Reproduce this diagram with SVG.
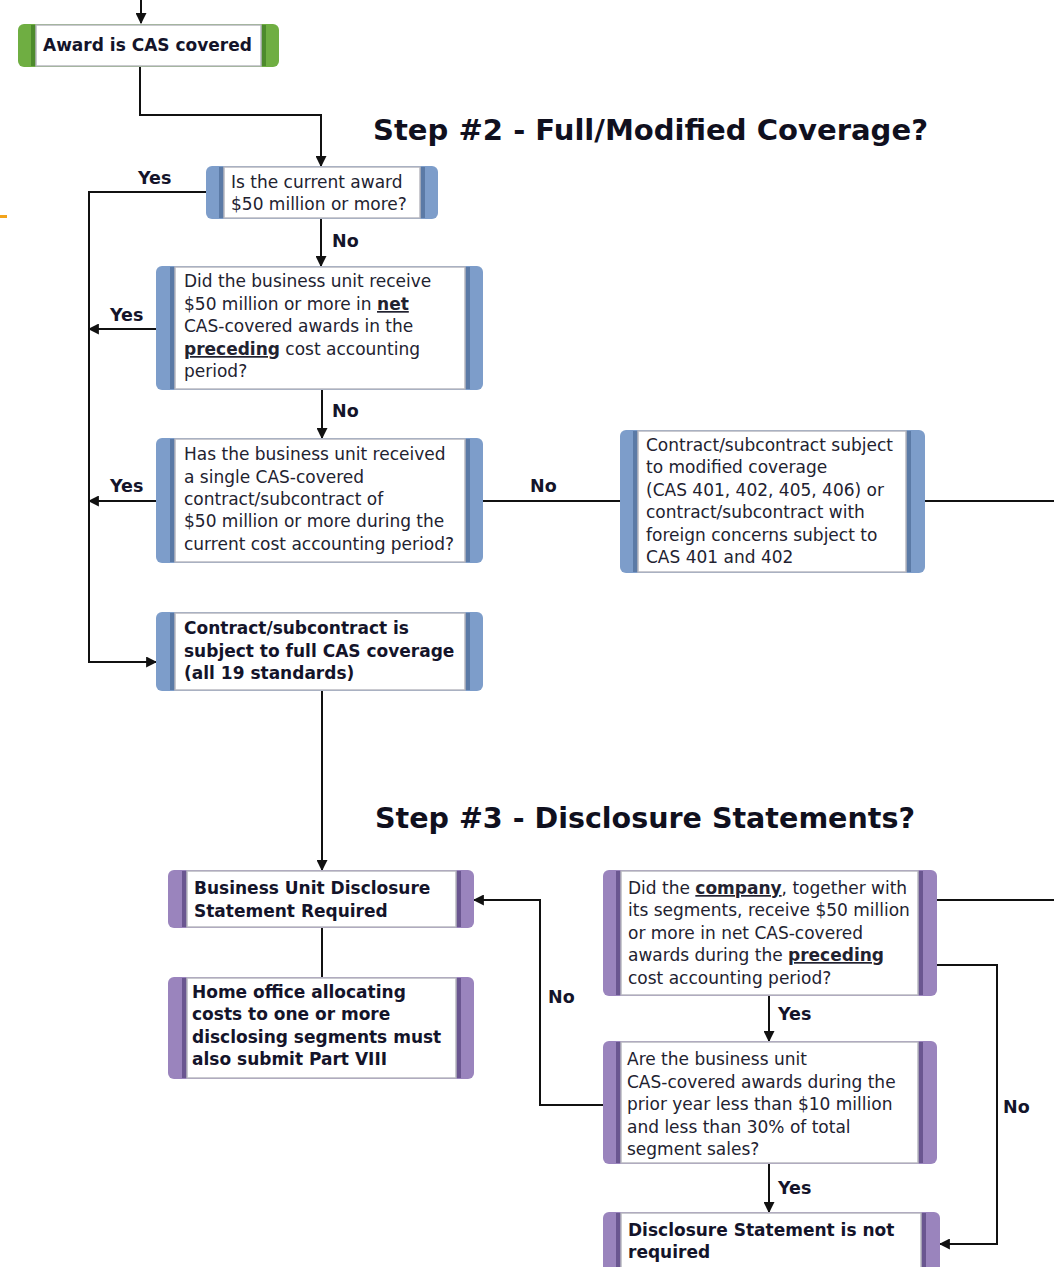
<svg xmlns="http://www.w3.org/2000/svg" width="1054" height="1267" viewBox="0 0 1054 1267">
<defs>
<style>
.t{font-family:"DejaVu Sans","Liberation Sans",sans-serif;font-size:17px;fill:#222230}
.b{font-family:"DejaVu Sans","Liberation Sans",sans-serif;font-size:17px;font-weight:bold;fill:#14142a}
.u{font-weight:bold;text-decoration:underline}
.lbl{font-family:"DejaVu Sans","Liberation Sans",sans-serif;font-size:17.5px;font-weight:bold;fill:#14142a}
.title{font-family:"DejaVu Sans","Liberation Sans",sans-serif;font-size:29px;font-weight:bold;fill:#10101e}
.in{fill:#fff;stroke:#b8b8c0;stroke-width:1.5}
.blue{fill:#7d9dca}
.purple{fill:#9a84bd}
.green{fill:#6fae42}
.shB{fill:#5b7aa6}
.shP{fill:#6a5690}
.shG{fill:#4d8a2c}
.ln{fill:none;stroke:#111;stroke-width:2}
</style>
<marker id="arw" viewBox="0 0 10 10" refX="9" refY="5" markerWidth="11" markerHeight="11" markerUnits="userSpaceOnUse" orient="auto">
<path d="M0,0 L10,5 L0,10 z" fill="#111"/>
</marker>
</defs>
<rect x="0" y="0" width="1054" height="1267" fill="#fff"/>
<rect x="0" y="215" width="7" height="3" fill="#f2a31b"/>

<text class="title" x="373" y="140" textLength="555" lengthAdjust="spacingAndGlyphs">Step #2 - Full/Modified Coverage?</text>
<text class="title" x="375" y="828" textLength="540" lengthAdjust="spacingAndGlyphs">Step #3 - Disclosure Statements?</text>

<g id="connectors">
<path class="ln" d="M141,0 V23" marker-end="url(#arw)"/>
<path class="ln" d="M140,67 V115 H321 V166" marker-end="url(#arw)"/>
<path class="ln" d="M206,192 H89 V662 H156" marker-end="url(#arw)"/>
<path class="ln" d="M321,219 V266" marker-end="url(#arw)"/>
<path class="ln" d="M156,329 H89" marker-end="url(#arw)"/>
<path class="ln" d="M322,390 V438" marker-end="url(#arw)"/>
<path class="ln" d="M156,501 H89" marker-end="url(#arw)"/>
<path class="ln" d="M483,501 H620"/>
<path class="ln" d="M925,501 H1054"/>
<path class="ln" d="M322,691 V870" marker-end="url(#arw)"/>
<path class="ln" d="M322,928 V977"/>
<path class="ln" d="M937,900 H1054"/>
<path class="ln" d="M937,965 H997 V1244 H940" marker-end="url(#arw)"/>
<path class="ln" d="M769,996 V1041" marker-end="url(#arw)"/>
<path class="ln" d="M603,1105 H540 V900 H474" marker-end="url(#arw)"/>
<path class="ln" d="M769,1164 V1212" marker-end="url(#arw)"/>
<text class="lbl" x="138" y="184">Yes</text>
<text class="lbl" x="332" y="247">No</text>
<text class="lbl" x="110" y="321">Yes</text>
<text class="lbl" x="332" y="417">No</text>
<text class="lbl" x="110" y="492">Yes</text>
<text class="lbl" x="530" y="492">No</text>
<text class="lbl" x="548" y="1003">No</text>
<text class="lbl" x="778" y="1020">Yes</text>
<text class="lbl" x="1003" y="1113">No</text>
<text class="lbl" x="778" y="1194">Yes</text>
</g>

<g id="n1">
<rect class="green" x="18" y="24" width="261" height="43" rx="6"/>
<rect class="shG" x="31" y="25" width="5" height="41"/>
<rect class="shG" x="261" y="25" width="5" height="41"/>
<rect class="in" x="36" y="25" width="225" height="41"/>
<text class="b" x="43" y="51">Award is CAS covered</text>
</g>

<g id="n2">
<rect class="blue" x="206" y="166" width="232" height="53" rx="6"/>
<rect class="shB" x="219" y="167" width="5" height="51"/>
<rect class="shB" x="420" y="167" width="5" height="51"/>
<rect class="in" x="224" y="167" width="196" height="51"/>
<text class="t" x="231" y="188">Is the current award</text>
<text class="t" x="231" y="210">$50 million or more?</text>
</g>

<g id="n3">
<rect class="blue" x="156" y="266" width="327" height="124" rx="6"/>
<rect class="shB" x="170" y="267" width="5" height="122"/>
<rect class="shB" x="465" y="267" width="5" height="122"/>
<rect class="in" x="175" y="267" width="290" height="122"/>
<text class="t" x="184" y="287">Did the business unit receive</text>
<text class="t" x="184" y="310">$50 million or more in <tspan class="u">net</tspan></text>
<text class="t" x="184" y="332">CAS-covered awards in the</text>
<text class="t" x="184" y="355"><tspan class="u">preceding</tspan> cost accounting</text>
<text class="t" x="184" y="377">period?</text>
</g>

<g id="n4">
<rect class="blue" x="156" y="438" width="327" height="125" rx="6"/>
<rect class="shB" x="170" y="439" width="5" height="123"/>
<rect class="shB" x="465" y="439" width="5" height="123"/>
<rect class="in" x="175" y="439" width="290" height="123"/>
<text class="t" x="184" y="460">Has the business unit received</text>
<text class="t" x="184" y="483">a single CAS-covered</text>
<text class="t" x="184" y="505">contract/subcontract of</text>
<text class="t" x="184" y="527">$50 million or more during the</text>
<text class="t" x="184" y="550">current cost accounting period?</text>
</g>

<g id="n5">
<rect class="blue" x="620" y="430" width="305" height="143" rx="6"/>
<rect class="shB" x="633" y="431" width="5" height="141"/>
<rect class="shB" x="906" y="431" width="5" height="141"/>
<rect class="in" x="638" y="431" width="268" height="141"/>
<text class="t" x="646" y="451">Contract/subcontract subject</text>
<text class="t" x="646" y="473">to modified coverage</text>
<text class="t" x="646" y="496">(CAS 401, 402, 405, 406) or</text>
<text class="t" x="646" y="518">contract/subcontract with</text>
<text class="t" x="646" y="541">foreign concerns subject to</text>
<text class="t" x="646" y="563">CAS 401 and 402</text>
</g>

<g id="n6">
<rect class="blue" x="156" y="612" width="327" height="79" rx="6"/>
<rect class="shB" x="170" y="613" width="5" height="77"/>
<rect class="shB" x="465" y="613" width="5" height="77"/>
<rect class="in" x="175" y="613" width="290" height="77"/>
<text class="b" x="184" y="634">Contract/subcontract is</text>
<text class="b" x="184" y="657">subject to full CAS coverage</text>
<text class="b" x="184" y="679">(all 19 standards)</text>
</g>

<g id="n7">
<rect class="purple" x="168" y="870" width="306" height="58" rx="6"/>
<rect class="shP" x="182" y="871" width="5" height="56"/>
<rect class="shP" x="456" y="871" width="5" height="56"/>
<rect class="in" x="187" y="871" width="269" height="56"/>
<text class="b" x="194" y="894">Business Unit Disclosure</text>
<text class="b" x="194" y="917">Statement Required</text>
</g>

<g id="n8">
<rect class="purple" x="168" y="977" width="306" height="102" rx="6"/>
<rect class="shP" x="182" y="978" width="5" height="100"/>
<rect class="shP" x="456" y="978" width="5" height="100"/>
<rect class="in" x="187" y="978" width="269" height="100"/>
<text class="b" x="192" y="998">Home office allocating</text>
<text class="b" x="192" y="1020">costs to one or more</text>
<text class="b" x="192" y="1043">disclosing segments must</text>
<text class="b" x="192" y="1065">also submit Part VIII</text>
</g>

<g id="n9">
<rect class="purple" x="603" y="870" width="334" height="126" rx="6"/>
<rect class="shP" x="616" y="871" width="5" height="124"/>
<rect class="shP" x="918" y="871" width="5" height="124"/>
<rect class="in" x="621" y="871" width="297" height="124"/>
<text class="t" x="628" y="894">Did the <tspan class="u">company</tspan>, together with</text>
<text class="t" x="628" y="916">its segments, receive $50 million</text>
<text class="t" x="628" y="939">or more in net CAS-covered</text>
<text class="t" x="628" y="961">awards during the <tspan class="u">preceding</tspan></text>
<text class="t" x="628" y="984">cost accounting period?</text>
</g>

<g id="n10">
<rect class="purple" x="603" y="1041" width="334" height="123" rx="6"/>
<rect class="shP" x="616" y="1042" width="5" height="121"/>
<rect class="shP" x="918" y="1042" width="5" height="121"/>
<rect class="in" x="621" y="1042" width="297" height="121"/>
<text class="t" x="627" y="1065">Are the business unit</text>
<text class="t" x="627" y="1088">CAS-covered awards during the</text>
<text class="t" x="627" y="1110">prior year less than $10 million</text>
<text class="t" x="627" y="1133">and less than 30% of total</text>
<text class="t" x="627" y="1155">segment sales?</text>
</g>

<g id="n11">
<rect class="purple" x="603" y="1212" width="337" height="70" rx="6"/>
<rect class="shP" x="616" y="1213" width="5" height="68"/>
<rect class="shP" x="921" y="1213" width="5" height="68"/>
<rect class="in" x="621" y="1213" width="300" height="68"/>
<text class="b" x="628" y="1236">Disclosure Statement is not</text>
<text class="b" x="628" y="1258">required</text>
</g>
</svg>
